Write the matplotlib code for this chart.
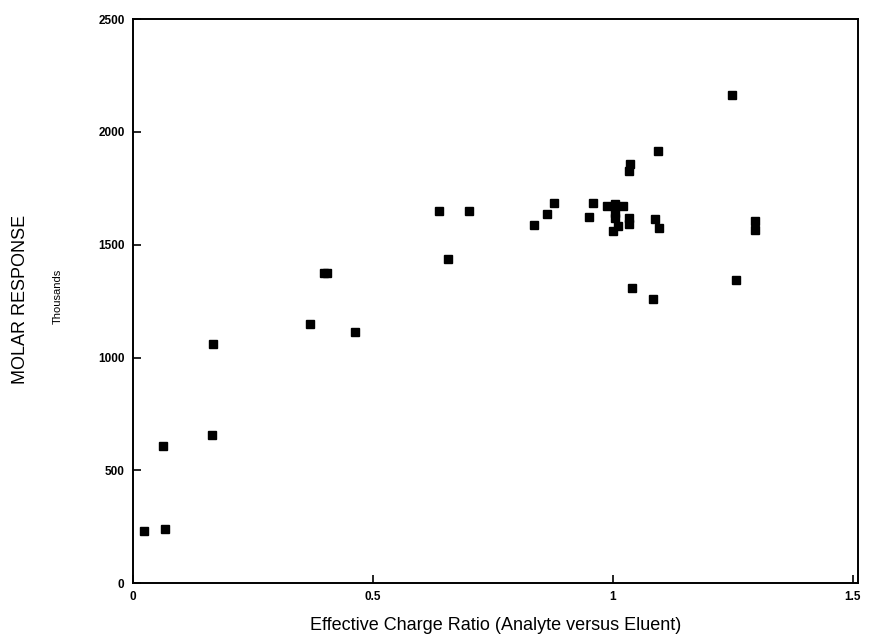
import matplotlib
matplotlib.use("Agg")
import matplotlib.pyplot as plt

plt.rcParams['font.family'] = ['Liberation Sans', 'DejaVu Sans']

charge_ratio = [0.023, 0.067, 0.0625, 0.165, 0.167, 0.369, 0.398, 0.405, 0.4625,
                0.6375, 0.656, 0.700, 0.835, 0.8625, 0.877, 0.950, 0.958,
                0.987, 1.004, 1.021, 1.004, 1.004, 1.010, 1.000, 1.033, 1.033,
                1.035, 1.033, 1.040, 1.083, 1.0875, 1.096, 1.094,
                1.248, 1.256, 1.296, 1.296]
molar_response = [230, 239, 610, 655, 1058, 1150, 1376, 1376, 1111,
                  1650, 1438, 1650, 1588, 1637, 1686, 1624, 1686,
                  1673, 1681, 1673, 1642, 1620, 1584, 1562, 1620, 1593,
                  1858, 1828, 1310, 1261, 1615, 1575, 1916,
                  2164, 1345, 1606, 1566]

x_ticks = [0, 0.5, 1, 1.5]
x_tick_labels = ["0", "0.5", "1", "1.5"]
y_ticks = [0, 500, 1000, 1500, 2000, 2500]
y_tick_labels = ["0", "500", "1000", "1500", "2000", "2500"]

fig = plt.figure(figsize=(8.69, 6.38), dpi=100)
ax = fig.add_axes([0.153, 0.086, 0.834, 0.884])

ax.plot(charge_ratio, molar_response, linestyle='none', marker='s',
        markersize=6.3, color='black')

ax.set_xlim(0, 1.51)
ax.set_ylim(0, 2500)
ax.set_xticks(x_ticks)
ax.set_xticklabels(x_tick_labels)
ax.set_yticks(y_ticks)
ax.set_yticklabels(y_tick_labels)
ax.tick_params(direction='in', length=6, width=1.2, labelsize=8.5, pad=6)
for lbl in ax.get_xticklabels() + ax.get_yticklabels():
    lbl.set_fontweight('bold')
for s in ax.spines.values():
    s.set_linewidth(1.4)

ax.set_xlabel("Effective Charge Ratio (Analyte versus Eluent)", fontsize=13, labelpad=10)
fig.text(0.024, 0.53, "MOLAR RESPONSE", rotation=90, fontsize=13,
         ha='center', va='center')
fig.text(0.067, 0.535, "Thousands", rotation=90, fontsize=8,
         ha='center', va='center')

fig.savefig("out.png", dpi=100)
